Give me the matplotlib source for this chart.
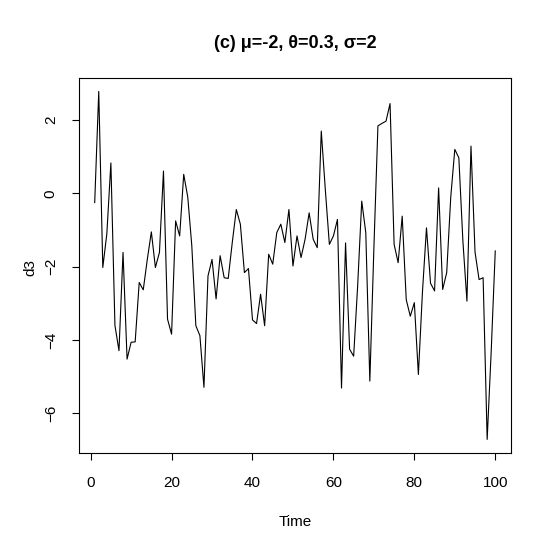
import numpy as np
import matplotlib.pyplot as plt

plt.rcParams['font.family'] = ['Liberation Sans', 'DejaVu Sans']

# simulated OU path d3
time = np.arange(1, 101)
d3 = [-0.25, 2.78, -2.02, -1.1, 0.83, -3.6, -4.29, -1.61, -4.52, -4.06,
      -4.05, -2.43, -2.63, -1.8, -1.05, -2.02, -1.61, 0.61, -3.43, -3.84,
      -0.75, -1.16, 0.52, -0.1, -1.43, -3.61, -3.88, -5.29, -2.25, -1.8,
      -2.88, -1.7, -2.3, -2.32, -1.34, -0.44, -0.84, -2.16, -2.05, -3.45,
      -3.55, -2.75, -3.61, -1.66, -1.93, -1.07, -0.84, -1.34, -0.44, -1.98,
      -1.16, -1.75, -1.25, -0.53, -1.25, -1.48, 1.70, 0.1, -1.39, -1.16,
      -0.71, -5.31, -1.35, -4.25, -4.44, -2.5, -0.21, -1.07, -5.12, -1.5,
      1.84, 1.91, 1.97, 2.45, -1.39, -1.89, -0.62, -2.9, -3.35, -2.98,
      -4.94, -2.7, -0.94, -2.45, -2.66, 0.15, -2.62, -2.16, -0.1, 1.2,
      0.97, -1.3, -2.94, 1.29, -1.6, -2.35, -2.3, -6.71, -4.3, -1.57]
title = "(c) \u03bc=-2, \u03b8=0.3, \u03c3=2"

fig = plt.figure(figsize=(5.6, 5.6), dpi=100)
ax = fig.add_axes([0.1405, 0.1905, 0.7725, 0.671])
ax.plot(time, d3, color="black", lw=0.8)
ax.margins(x=0.04, y=0.04)

ax.set_xticks([0, 20, 40, 60, 80, 100])
ax.set_yticks([-6, -4, -2, 0, 2])
ax.tick_params(direction="out", length=5, width=0.8, labelsize=11, pad=11)
ax.tick_params(axis="y", labelrotation=90, pad=10)
for lab in ax.get_yticklabels():
    lab.set_va("center")
for s in ax.spines.values():
    s.set_linewidth(0.8)

fig.text(0.527, 0.923, title, ha="center", va="center", fontsize=13, fontweight="bold")
fig.text(0.527, 1 - 522/560, "Time", ha="center", va="center", fontsize=11)
fig.text(30/560, 1 - 267/560, "d3", ha="center", va="center", fontsize=11, rotation=90)

fig.savefig("out.png")
